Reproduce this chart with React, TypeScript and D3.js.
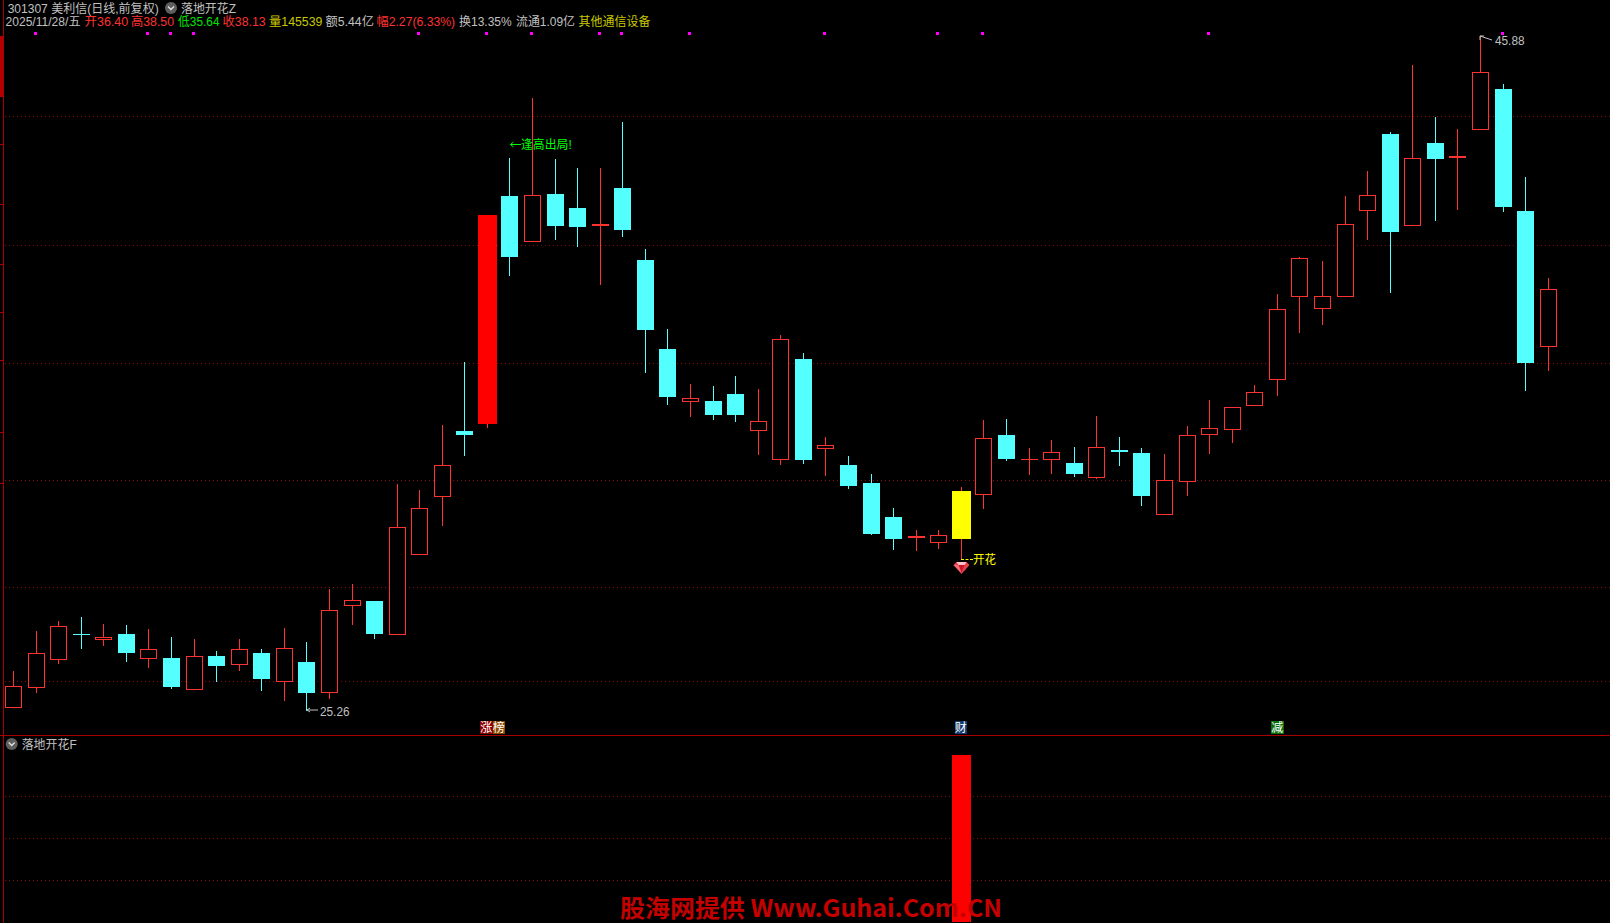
import React from "react";
import * as d3 from "d3";

// ---------- data ----------
const opens = [25.37,25.98,26.83,27.60,27.44,27.61,26.87,26.88,25.92,26.94,26.69,27.03,26.17,26.76,25.83,28.48,28.62,27.60,30.05,31.82,33.81,34.04,40.99,39.60,41.05,40.63,40.08,41.24,39.04,36.32,34.71,34.73,34.94,33.82,32.94,36.01,33.27,32.77,32.22,31.19,30.54,30.40,31.98,31.87,33.69,32.95,32.94,32.84,32.39,33.23,33.14,31.26,32.26,33.70,33.85,34.59,35.38,37.92,37.55,37.92,40.54,42.89,40.10,42.61,42.15,43.03,44.26,40.53,36.40];
const closes = [26.01,27.02,27.85,27.60,27.52,27.04,27.14,25.99,26.93,26.63,27.14,26.24,27.17,25.82,28.34,28.64,27.62,30.87,31.45,32.77,33.69,40.41,39.13,41.01,40.08,40.05,40.14,39.95,36.90,34.85,34.82,34.30,34.30,34.11,36.61,32.93,33.38,32.13,30.67,30.51,30.61,30.63,30.51,33.59,32.96,32.95,33.16,32.50,33.32,33.17,31.83,32.31,33.68,33.90,34.54,35.00,37.53,39.09,37.93,40.13,41.01,39.89,42.14,42.12,42.21,44.77,40.66,35.89,38.13];
const highs = [26.48,27.69,28.00,28.12,27.92,27.89,27.75,27.52,27.45,27.09,27.45,27.14,27.79,27.36,28.98,29.14,28.62,32.19,32.00,33.99,35.91,40.41,42.14,43.99,42.12,41.85,41.85,43.25,39.37,36.93,35.25,35.19,35.49,35.10,36.75,36.20,33.63,33.05,32.50,31.46,30.79,30.79,32.09,34.15,34.18,33.29,33.54,33.32,34.27,33.63,33.29,33.11,33.97,34.76,34.54,35.22,38.00,39.13,39.01,40.99,41.76,42.95,44.99,43.41,43.04,45.88,44.41,41.57,38.50];
const lows = [25.37,25.82,26.70,27.16,27.25,26.76,26.58,25.94,25.92,26.15,26.49,25.88,25.57,25.26,25.64,27.89,27.47,27.60,30.05,30.92,33.05,33.91,38.56,39.60,39.65,39.43,38.27,39.74,35.58,34.61,34.24,34.15,34.09,33.08,32.77,32.80,32.44,32.04,30.64,30.18,30.15,30.21,29.89,31.43,32.90,32.47,32.50,32.41,32.35,32.74,31.52,31.26,31.83,33.11,33.45,34.59,34.88,36.81,37.05,37.92,39.65,38.03,40.10,40.23,40.56,43.03,40.50,35.03,35.64];
const solidRedIndex = 21;
const yellowIndex = 42;
const signalIndex = [1,6,7,8,18,21,23,26,27,30,36,41,43,53,66];
const gridPrices = [43.43,39.49,35.88,32.31,29.06,26.17];
const axisTicks = [42.58,40.75,38.91,37.45,35.98,33.78,32.22];
const subGrid = [25,50,75];
const subValue = 100;
const headerRow1 = [
  { t: "301307 美利信(日线,前复权)", x: 7.7, w: 151, c: "#c0c0c0" },
  { t: "落地开花Z", x: 181, w: 55, c: "#c0c0c0" },
];
const headerRow2 = [
  { t: "2025/11/28/五", x: 5.5, w: 75, c: "#c0c0c0" },
  { t: "开36.40", x: 84.6, w: 43.6, c: "#ff3232" },
  { t: "高38.50", x: 131, w: 43, c: "#ff3232" },
  { t: "低35.64", x: 178, w: 41.5, c: "#00e600" },
  { t: "收38.13", x: 222.6, w: 43, c: "#ff3232" },
  { t: "量145539", x: 269, w: 53.4, c: "#c8c800" },
  { t: "额5.44亿", x: 325.6, w: 48.3, c: "#c0c0c0" },
  { t: "幅2.27(6.33%)", x: 376.5, w: 78.6, c: "#ff3232" },
  { t: "换13.35%", x: 459, w: 52.6, c: "#c0c0c0" },
  { t: "流通1.09亿", x: 516, w: 59, c: "#c0c0c0" },
  { t: "其他通信设备", x: 578.6, w: 71.8, c: "#c8c800" },
];
const badges = [
  { t: "涨", x: 480, bg: "#8c0000" },
  { t: "榜", x: 492.5, bg: "#8c4a00" },
  { t: "财", x: 954.5, bg: "#103a6e" },
  { t: "减", x: 1271, bg: "#0a6e0a" },
];

// ---------- palette / frame ----------
const W = 1610;
const H = 923;
const RED = "#ff3232";
const CYAN = "#54ffff";
const DARK = "#a80000";
const FONT = "'Liberation Sans','Noto Sans CJK SC',sans-serif";

const x = d3.scaleLinear().domain([0, 68]).range([12.95, 1547.71]);
const y = d3.scaleLinear().domain([25.26, 45.88]).range([711, 36]);
const ySub = d3.scaleLinear().domain([0, 100]).range([922, 755]);
const round = (v: number) => Math.round(v);

function Candle({ i }: { i: number }) {
  const cx = round(x(i));
  const o = opens[i], c = closes[i];
  const up = c > o || (c === o && i !== 3);
  const top = round(y(Math.max(o, c)));
  const bot = round(y(Math.min(o, c)));
  const hy = round(y(highs[i]));
  const ly = round(y(lows[i]));
  const h = bot - top;
  const wick = i === yellowIndex || i === solidRedIndex ? RED : up ? RED : CYAN;
  const wickEl = <rect x={cx} y={hy} width={1} height={Math.max(ly - hy, 1)} fill={wick} />;
  if (i === yellowIndex || i === solidRedIndex) {
    return (
      <g>
        {wickEl}
        <rect x={cx - 9} y={top} width={19} height={h} fill={i === yellowIndex ? "#ffff00" : "#ff0000"} />
      </g>
    );
  }
  if (!up) {
    return (
      <g>
        {wickEl}
        <rect x={cx - 8} y={top} width={17} height={Math.max(h, 1)} fill={CYAN} />
      </g>
    );
  }
  if (h <= 2) {
    return (
      <g>
        {wickEl}
        <rect x={cx - 8} y={top} width={17} height={Math.max(h, 1)} fill={RED} />
      </g>
    );
  }
  const t = Math.floor(y(Math.max(o, c)));
  const b = Math.floor(y(Math.min(o, c)));
  return (
    <g>
      {wickEl}
      <rect x={cx - 7.5} y={t + 0.5} width={16} height={b - t} fill="#000" stroke={RED} strokeWidth={1} />
    </g>
  );
}

function Chevron({ cx, cy }: { cx: number; cy: number }) {
  return (
    <g>
      <circle cx={cx} cy={cy} r={6} fill="#5e5e5e" />
      <path d={`M${cx - 3},${cy - 1.5} L${cx},${cy + 1.5} L${cx + 3},${cy - 1.5}`} fill="none" stroke="#e0e0e0" strokeWidth={1.4} />
    </g>
  );
}

function Gem({ cx, cy }: { cx: number; cy: number }) {
  return (
    <g transform={`translate(${cx},${cy})`}>
      <polygon points="-8,-3 -5,-6 5,-6 8,-3 0,6" fill="#e8404f" />
      <polygon points="-5,-6 5,-6 3,-3 -3,-3" fill="#ffc0c8" />
      <polygon points="-3,-3 3,-3 0,5" fill="#c81828" />
      <polygon points="-8,-3 -3,-3 0,5" fill="#f26a76" />
    </g>
  );
}

export default function App() {
  const dotted = (yy: number, key: string | number) => (
    <line key={key} x1={5} x2={W} y1={yy + 0.5} y2={yy + 0.5} stroke="#8c0a0a" strokeWidth={1} strokeDasharray="1 3" />
  );
  const hi = y(45.88);
  const lo = y(25.26);
  const xLow = round(x(13));
  const xHigh = round(x(65));
  const xFlower = round(x(yellowIndex));
  return (
    <svg
      width={W}
      height={H}
      viewBox={`0 0 ${W} ${H}`}
      shapeRendering="crispEdges"
      style={{ position: "absolute", left: 0, top: 0, background: "#000", display: "block" }}
    >
      <rect x={0} y={0} width={W} height={H} fill="#000" />

      {/* frame */}
      <rect x={3} y={0} width={1} height={H} fill={DARK} />
      <rect x={0} y={36} width={3} height={61} fill="#b40000" />
      {axisTicks.map((t) => (
        <rect key={t} x={0} y={round(y(t))} width={3} height={1} fill={DARK} />
      ))}
      <rect x={0} y={735} width={W} height={1} fill={DARK} />

      {/* grids */}
      {gridPrices.map((p) => dotted(round(y(p)), p))}
      {subGrid.map((v) => dotted(Math.floor(ySub(v)), "s" + v))}

      {/* candles */}
      {opens.map((_, i) => (
        <Candle key={i} i={i} />
      ))}

      {/* signal dots */}
      {signalIndex.map((i) => (
        <rect key={i} x={round(x(i)) - 2} y={32} width={3} height={3} fill="#ff00ff" />
      ))}

      {/* sub-panel bar */}
      <rect x={xFlower - 9} y={ySub(subValue)} width={19} height={ySub(0) - ySub(subValue)} fill="#ff0000" />

      <g fontFamily={FONT} fontSize={12} shapeRendering="auto">
        {headerRow1.map((d) => (
          <text key={d.t} x={d.x} y={12.5} fill={d.c} textLength={d.w} lengthAdjust="spacingAndGlyphs">{d.t}</text>
        ))}
        {headerRow2.map((d) => (
          <text key={d.t} x={d.x} y={26} fill={d.c} textLength={d.w} lengthAdjust="spacingAndGlyphs">{d.t}</text>
        ))}
        <text x={21.7} y={749} fill="#c0c0c0" textLength={55} lengthAdjust="spacingAndGlyphs">落地开花F</text>

        {/* low / high labels */}
        <path d={`M${xLow + 1},${lo - 1} H${xLow + 12} M${xLow + 1},${lo - 1} l3,-2 M${xLow + 1},${lo - 1} l3,2`} stroke="#c0c0c0" fill="none" />
        <text x={320} y={716} fill="#c0c0c0" textLength={29.5} lengthAdjust="spacingAndGlyphs">25.26</text>
        <path d={`M${xHigh},${hi} L${xHigh + 12},${hi + 4} M${xHigh},${hi} h4 M${xHigh},${hi} v4`} stroke="#c0c0c0" fill="none" />
        <text x={1495} y={45} fill="#c0c0c0" textLength={29.5} lengthAdjust="spacingAndGlyphs">45.88</text>

        {/* annotations */}
        <path d="M510.5,144.5 H521 M510.5,144.5 l3,-2.5 M510.5,144.5 l3,2.5" stroke="#00ff00" fill="none" />
        <text x={521} y={148.5} fill="#00ff00" textLength={50.7} lengthAdjust="spacingAndGlyphs">逢高出局!</text>
        <path d={`M${xFlower},559.5 H973`} stroke="#ffff00" strokeDasharray="3 1.5" fill="none" />
        <text x={973} y={563.5} fill="#ffff00" textLength={23} lengthAdjust="spacingAndGlyphs">开花</text>

        <Chevron cx={171} cy={8} />
        <Chevron cx={11.7} cy={744} />
        <Gem cx={xFlower + 0.5} cy={568} />

        {/* badges */}
        {badges.map((b) => (
          <g key={b.t}>
            <rect x={b.x} y={721} width={12.5} height={13} fill={b.bg} shapeRendering="crispEdges" />
            <text x={b.x + 0.3} y={732} fill="#ffffff" textLength={12} lengthAdjust="spacingAndGlyphs">{b.t}</text>
          </g>
        ))}

        {/* watermark */}
        <text
          x={620}
          y={917}
          fill="#c40000"
          fontFamily="'Noto Sans CJK SC','DejaVu Sans',sans-serif"
          fontWeight={700}
          fontSize={24}
          textLength={382}
          lengthAdjust="spacingAndGlyphs"
        >
          股海网提供 Www.Guhai.Com.CN
        </text>
      </g>
    </svg>
  );
}
